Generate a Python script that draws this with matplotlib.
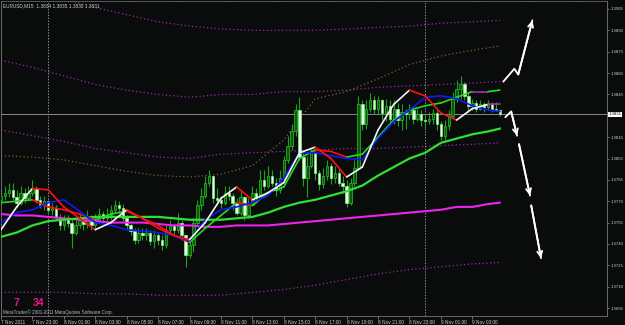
import matplotlib
matplotlib.use("Agg")
import matplotlib.pyplot as plt
import matplotlib.transforms as mtransforms
from matplotlib.collections import LineCollection
from matplotlib import font_manager
import numpy as np

plt.rcParams['font.family'] = ['Liberation Sans', 'DejaVu Sans']
_names = {f.name for f in font_manager.fontManager.ttflist}
NARROW = ['Liberation Sans Narrow', 'Liberation Sans'] if 'Liberation Sans Narrow' in _names else ['Liberation Sans']

# ---------------- data ----------------
open0 = 1.3771
closes = [1.3774,1.3776,1.3778,1.3773,1.3769,1.3776,1.3772,1.3776,1.3779,1.3771,
          1.3767,1.3770,1.3764,1.3765,1.3759,1.3753,1.3757,1.3755,1.3748,1.3753,
          1.3757,1.3754,1.3758,1.3753,1.3757,1.3761,1.3758,1.3760,1.3764,1.3767,
          1.3765,1.3758,1.3753,1.3749,1.3743,1.3748,1.3746,1.3748,1.3742,1.3746,
          1.3743,1.3739,1.3750,1.3753,1.3750,1.3755,1.3746,1.3732,1.3739,1.3755,
          1.3767,1.3774,1.3783,1.3788,1.3772,1.3771,1.3769,1.3776,1.3774,1.3769,
          1.3762,1.3773,1.3760,1.3767,1.3776,1.3772,1.3785,1.3781,1.3788,1.3783,
          1.3778,1.3786,1.3799,1.3809,1.3819,1.3834,1.3801,1.3786,1.3795,1.3804,
          1.3790,1.3782,1.3788,1.3795,1.3786,1.3790,1.3783,1.3781,1.3769,1.3783,
          1.3793,1.3838,1.3824,1.3835,1.3841,1.3835,1.3841,1.3832,1.3837,1.3828,
          1.3835,1.3827,1.3833,1.3831,1.3834,1.3828,1.3831,1.3827,1.3826,1.3828,
          1.3832,1.3824,1.3816,1.3823,1.3830,1.3842,1.3849,1.3852,1.3844,1.3837,
          1.3839,1.3835,1.3838,1.3836,1.3838,1.3835,1.3834,1.3831]
highs = [1.3779,1.3781,1.3783,1.3783,1.3778,1.3781,1.3779,1.3781,1.3785,1.3781,
         1.3774,1.3774,1.3771,1.3769,1.3767,1.3761,1.3760,1.3760,1.3758,1.3757,
         1.3761,1.3759,1.3764,1.3760,1.3761,1.3765,1.3763,1.3765,1.3767,1.3771,
         1.3770,1.3768,1.3760,1.3755,1.3751,1.3751,1.3751,1.3751,1.3750,1.3750,
         1.3748,1.3746,1.3753,1.3757,1.3755,1.3762,1.3757,1.3746,1.3743,1.3758,
         1.3771,1.3779,1.3788,1.3792,1.3788,1.3779,1.3774,1.3781,1.3781,1.3776,
         1.3772,1.3778,1.3774,1.3772,1.3781,1.3779,1.3792,1.3792,1.3795,1.3792,
         1.3786,1.3792,1.3802,1.3816,1.3824,1.3838,1.3843,1.3806,1.3802,1.3807,
         1.3806,1.3792,1.3793,1.3799,1.3797,1.3795,1.3793,1.3788,1.3785,1.3786,
         1.3799,1.3844,1.3841,1.3841,1.3846,1.3844,1.3844,1.3842,1.3842,1.3841,
         1.3841,1.3839,1.3838,1.3835,1.3838,1.3837,1.3835,1.3834,1.3831,1.3833,
         1.3835,1.3834,1.3826,1.3827,1.3834,1.3847,1.3855,1.3858,1.3854,1.3847,
         1.3842,1.3841,1.3841,1.3840,1.3841,1.3840,1.3840,1.3835]
lows = [1.3767,1.3771,1.3773,1.3771,1.3766,1.3767,1.3769,1.3771,1.3774,1.3769,
        1.3765,1.3764,1.3761,1.3760,1.3757,1.3750,1.3750,1.3752,1.3737,1.3746,
        1.3751,1.3750,1.3751,1.3750,1.3751,1.3754,1.3755,1.3755,1.3757,1.3762,
        1.3762,1.3756,1.3750,1.3746,1.3740,1.3741,1.3743,1.3743,1.3739,1.3737,
        1.3739,1.3736,1.3737,1.3748,1.3747,1.3748,1.3743,1.3724,1.3730,1.3734,
        1.3753,1.3764,1.3772,1.3781,1.3769,1.3767,1.3765,1.3767,1.3771,1.3764,
        1.3760,1.3760,1.3757,1.3758,1.3767,1.3769,1.3772,1.3778,1.3779,1.3781,
        1.3774,1.3776,1.3785,1.3797,1.3806,1.3816,1.3799,1.3781,1.3773,1.3793,
        1.3785,1.3778,1.3779,1.3785,1.3782,1.3783,1.3781,1.3776,1.3766,1.3767,
        1.3781,1.3792,1.3820,1.3821,1.3833,1.3831,1.3831,1.3827,1.3826,1.3824,
        1.3824,1.3823,1.3820,1.3821,1.3828,1.3824,1.3826,1.3823,1.3821,1.3824,
        1.3824,1.3820,1.3813,1.3813,1.3820,1.3828,1.3840,1.3842,1.3841,1.3833,
        1.3834,1.3833,1.3834,1.3833,1.3834,1.3833,1.3834,1.3830]

# moving averages, read every 4 bars
ma_x = [0,4,8,12,16,20,24,28,32,36,40,44,48,52,56,60,64,68,72,76,80,84,88,92,96,100,104,108,112,116,120,124,127]
ma_fast = [1.3750,1.3766,1.3779,1.3778,1.3766,1.3758,1.3750,1.3755,1.3764,1.3758,1.3751,1.3746,1.3743,1.3755,1.3772,1.3780,
           1.3771,1.3776,1.3783,1.3804,1.3808,1.3800,1.3787,1.3794,1.3820,1.3838,1.3848,1.3844,1.3832,1.3827,1.3835,1.3838,1.3838]
ma_blue = [1.3755,1.3762,1.3764,1.3769,1.3771,1.3763,1.3755,1.3753,1.3750,1.3749,1.3748,1.3746,1.3742,1.3757,1.3764,1.3766,
           1.3769,1.3774,1.3786,1.3804,1.3804,1.3802,1.3800,1.3799,1.3814,1.3826,1.3834,1.3843,1.3844,1.3842,1.3837,1.3834,1.3833]
ma_medium = [1.3769,1.3770,1.3771,1.3766,1.3764,1.3761,1.3757,1.3761,1.3763,1.3758,1.3753,1.3746,1.3741,1.3751,1.3760,1.3769,
             1.3767,1.3776,1.3780,1.3800,1.3806,1.3805,1.3801,1.3803,1.3815,1.3827,1.3834,1.3837,1.3839,1.3843,1.3847,1.3847,1.3848]
ma_slow = [1.3745,1.3748,1.3753,1.3756,1.3757,1.3758,1.3759,1.3759,1.3759,1.3759,1.3759,1.3758,1.3757,1.3757,1.3757,1.3758,
           1.3759,1.3762,1.3766,1.3769,1.3771,1.3774,1.3777,1.3781,1.3788,1.3794,1.3800,1.3804,1.3811,1.3814,1.3817,1.3819,1.3821]
ma_long = [1.3761,1.3760,1.3760,1.3759,1.3758,1.3757,1.3756,1.3755,1.3755,1.3755,1.3754,1.3753,1.3753,1.3752,1.3752,1.3753,
           1.3753,1.3753,1.3754,1.3755,1.3756,1.3757,1.3758,1.3759,1.3760,1.3761,1.3762,1.3763,1.3764,1.3766,1.3766,1.3768,1.3769]

# bands, read every 8 bars
band_x = [0,8,16,24,32,40,48,56,64,72,80,88,96,104,112,120,127]
band_a = [1.3925,1.3917,1.3912,1.3906,1.3901,1.3896,1.3893,1.3891,1.3890,1.3890,1.3890,1.3891,1.3892,1.3893,1.3895,1.3896,1.3897]
band_b = [1.3869,1.3864,1.3858,1.3852,1.3848,1.3845,1.3843,1.3845,1.3845,1.3847,1.3847,1.3848,1.3850,1.3851,1.3852,1.3853,1.3854]
band_c = [1.3820,1.3816,1.3812,1.3807,1.3804,1.3801,1.3800,1.3803,1.3804,1.3805,1.3806,1.3807,1.3807,1.3808,1.3809,1.3810,1.3811]
band_d = [1.3706,1.3706,1.3706,1.3705,1.3705,1.3704,1.3704,1.3704,1.3706,1.3708,1.3711,1.3715,1.3719,1.3722,1.3724,1.3726,1.3727]
band_e = [1.3802,1.3801,1.3799,1.3795,1.3791,1.3788,1.3787,1.3789,1.3795,1.3813,1.3842,1.3847,1.3856,1.3866,1.3872,1.3876,1.3879]

price_ticks = [1.3905,1.3890,1.3875,1.3860,1.3845,1.3815,1.3800,1.3785,1.3770,1.3755,1.3740,1.3725,1.3710,1.3695]
price_labels = ['1.3905','1.3890','1.3875','1.3860','1.3845','1.3815','1.3800','1.3785','1.3770','1.3755','1.3740','1.3725','1.3710','1.3695']
time_bars = [0,8,16,24,32,40,48,56,64,72,80,88,96,104,112,120]
time_labels = ['7 Nov 2011','7 Nov 23:00','8 Nov 01:00','8 Nov 03:00','8 Nov 05:00','8 Nov 07:00','8 Nov 09:00',
               '8 Nov 11:00','8 Nov 13:00','8 Nov 15:00','8 Nov 17:00','8 Nov 19:00','8 Nov 21:00','8 Nov 23:00',
               '9 Nov 01:00','9 Nov 03:00']
day_separators = [12, 108]
bid = 1.3831
header = 'EURUSD,M15  1.3834 1.3835 1.3830 1.3831'

arrow_up_x = [127.9,130.7,131.7,135.3]
arrow_up_y = [1.3854,1.3863,1.3859,1.3897]
arrow_d1_x = [128.4,129.9,131.4]
arrow_d1_y = [1.3829,1.3833,1.3816]
arrow_d2_x = [131.9,134.7]
arrow_d2_y = [1.3810,1.3774]
arrow_d3_x = [135.0,137.5]
arrow_d3_y = [1.3767,1.3730]

# ---------------- figure ----------------
BG = '#0a0c0c'
fig = plt.figure(figsize=(6.25, 3.25), dpi=100)
fig.patch.set_facecolor(BG)
ax = fig.add_axes([1/625, 9/325, 606/625, 315/325])
ax.set_facecolor(BG)
ax.set_xlim(0.10, 154.3)
ax.set_ylim(1.36894, 1.39106)

# bands
for vals in (band_a, band_b, band_c, band_d):
    ax.plot(band_x, vals, color='#9a2aa8', lw=0.9, ls=(0, (1, 2)), zorder=1)
ax.plot(band_x, band_e, color='#6e6a28', lw=0.9, ls=(0, (1, 2)), zorder=1)

# separators and bid line
for s in day_separators:
    ax.axvline(s, color='#8a8aa0', lw=0.7, ls=(0, (1.5, 1.5)), zorder=1)
ax.axhline(bid, color='#8a8a8a', lw=0.7, zorder=1)

# candles
n = len(closes)
xs = np.arange(n)
opens = [open0] + closes[:-1]
hi = [max(h, o, c) for h, o, c in zip(highs, opens, closes)]
lo = [min(l, o, c) for l, o, c in zip(lows, opens, closes)]
ax.vlines(xs, lo, hi, color='#1f9e1f', lw=0.8, zorder=2)
faces, edges, bottoms, heights = [], [], [], []
for o, c in zip(opens, closes):
    bottoms.append(min(o, c))
    heights.append(max(abs(c - o), 0.00002))
    if c > o:
        faces.append('#0b5a0b'); edges.append('#26c826')
    else:
        faces.append('#eaffea'); edges.append('#80f080')
ax.bar(xs, heights, bottom=bottoms, width=0.62, color=faces, edgecolor=edges, linewidth=0.5, zorder=3)

# MAs
ax.plot(ma_x, ma_long, color='#ee22ee', lw=1.5, zorder=4)
ax.plot(ma_x, ma_slow, color='#30e030', lw=1.6, zorder=4)

def slope_line(x, y, up, down='#ff1010', flat='#a030b0', lw=1.2, z=5):
    pts = np.column_stack([x, y])
    segs = [pts[i:i+2] for i in range(len(x) - 1)]
    cols = []
    for i in range(len(x) - 1):
        d = y[i+1] - y[i]
        cols.append(up if d > 0 else (down if d < 0 else flat))
    ax.add_collection(LineCollection(segs, colors=cols, linewidths=lw, zorder=z, capstyle='round', joinstyle='round'))

slope_line(ma_x, ma_medium, '#22dd22', lw=1.2, z=5)
ax.plot(ma_x, ma_blue, color='#1414ff', lw=1.2, zorder=6)
slope_line(ma_x, ma_fast, '#f4f4f4', lw=1.2, z=7)

# hand-drawn arrows
for ax_x, ax_y in ((arrow_up_x, arrow_up_y), (arrow_d1_x, arrow_d1_y), (arrow_d2_x, arrow_d2_y), (arrow_d3_x, arrow_d3_y)):
    ax.plot(ax_x, ax_y, color='white', lw=1.3, zorder=8, solid_capstyle='round')
    ax.annotate('', xy=(ax_x[-1], ax_y[-1]), xytext=(ax_x[-2], ax_y[-2]),
                arrowprops=dict(arrowstyle='->', color='white', lw=1.3, mutation_scale=9, shrinkA=0, shrinkB=0),
                zorder=8)

# axes styling
for side, sp in ax.spines.items():
    sp.set_color('#7a7a7a'); sp.set_linewidth(0.6)
ax.spines['top'].set_linestyle((0, (1, 1.5)))
ax.spines['bottom'].set_color('#8a6a80')
ax.spines['bottom'].set_linestyle((0, (1, 1)))

ax.yaxis.tick_right()
ax.set_yticks(price_ticks)
ax.set_yticklabels(price_labels, family=NARROW)
ax.tick_params(axis='y', colors='#9a9a9a', labelcolor='#d0d0d0', length=1.5, width=0.5, labelsize=3.1, pad=0.8)
ax.set_xticks(time_bars)
ax.set_xticklabels(time_labels, ha='left')
ax.tick_params(axis='x', colors='#9a9a9a', labelcolor='#d0d0d0', length=2, width=0.5, labelsize=3.4, pad=1.2)

trans = mtransforms.blended_transform_factory(ax.transAxes, ax.transData)
ax.text(1.0025, bid, '1.3831', transform=trans, fontsize=3.1, family=NARROW, color='black', va='center', ha='left',
        bbox=dict(facecolor='white', edgecolor='none', pad=0.4), clip_on=False, zorder=10)

ax.text(0.003, 0.985, header, transform=ax.transAxes, fontsize=3.4, color='#d0d0d0', va='center', ha='left')
ax.text(0.004, 0.011, 'MetaTrader\u00a9 2001-2011 MetaQuotes Software Corp.', transform=ax.transAxes,
        fontsize=3.3, color='#b8b8b8', va='center', ha='left', zorder=9)
ax.text(0.020, 0.040, '7', transform=ax.transAxes, fontsize=7.5, fontweight='bold', color='#e8188c',
        va='center', ha='left', zorder=10)
ax.text(0.053, 0.040, '34', transform=ax.transAxes, fontsize=7.5, fontweight='bold', color='#e8188c',
        va='center', ha='left', zorder=10)

fig.savefig('out.png', dpi=100, facecolor=BG)
